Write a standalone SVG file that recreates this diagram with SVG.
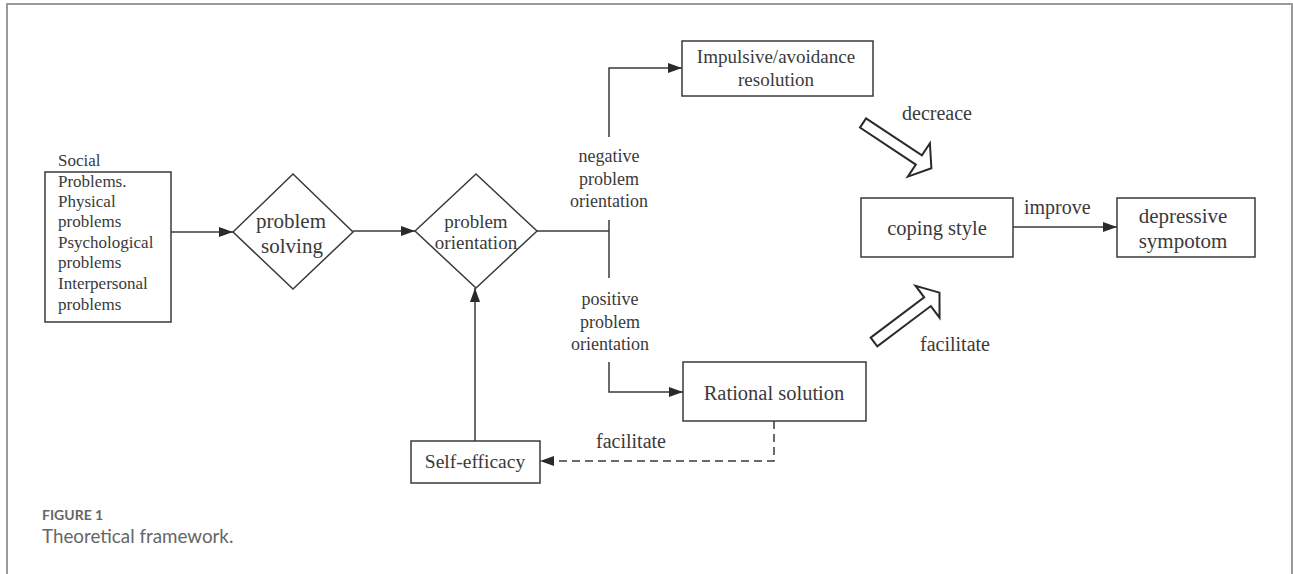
<svg xmlns="http://www.w3.org/2000/svg" width="1293" height="574" viewBox="0 0 1293 574">
<style>
.box{fill:#fff;stroke:#3a3a3a;stroke-width:1.5}
.ln{fill:none;stroke:#3a3a3a;stroke-width:1.5}
.dash{fill:none;stroke:#3a3a3a;stroke-width:1.5;stroke-dasharray:8,5}
.hollow{fill:#fff;stroke:#2a2a2a;stroke-width:2}
.t{font-family:"Liberation Serif","Times New Roman",serif;fill:#3a3a3a}
.cap{font-family:Lato,"Open Sans",sans-serif}
</style>
<defs>
<marker id="ah" viewBox="0 0 14 10" refX="14" refY="5" markerWidth="14" markerHeight="10" markerUnits="userSpaceOnUse" orient="auto">
<path d="M0,0 L14,5 L0,10 Z" fill="#2a2a2a"/>
</marker>
</defs>
<rect x="0" y="0" width="1293" height="574" fill="#fff"/>
<g id="frame">
<path d="M7,574 V4 H1292 V574" fill="none" stroke="#9a9a9a" stroke-width="2"/>
</g>
<g id="connectors">
<line class="ln" x1="171" y1="232" x2="233" y2="232" marker-end="url(#ah)"/>
<line class="ln" x1="353" y1="231" x2="415" y2="231" marker-end="url(#ah)"/>
<line class="ln" x1="537" y1="231" x2="609" y2="231"/>
<line class="ln" x1="609" y1="220" x2="609" y2="278"/>
<path class="ln" d="M609,137 V68 H682" marker-end="url(#ah)"/>
<path class="ln" d="M609,362 V392 H683" marker-end="url(#ah)"/>
<line class="ln" x1="475" y1="441" x2="475" y2="288" marker-end="url(#ah)"/>
<path class="dash" d="M774,421 V461 H540" marker-end="url(#ah)"/>
<line class="ln" x1="1013" y1="227" x2="1117" y2="227" marker-end="url(#ah)"/>
<polygon class="hollow" transform="translate(863,123) rotate(33.5)" points="0,-5.5 67,-5.5 67,-20 82,0 67,20 67,5.5 0,5.5"/>
<polygon class="hollow" transform="translate(874,342) rotate(-37)" points="0,-5.5 67,-5.5 67,-20 82,0 67,20 67,5.5 0,5.5"/>
<text class="t" x="609" y="162" font-size="18" text-anchor="middle">negative</text>
<text class="t" x="609" y="185" font-size="18" text-anchor="middle">problem</text>
<text class="t" x="609" y="207" font-size="18" text-anchor="middle">orientation</text>
<text class="t" x="610" y="305" font-size="18" text-anchor="middle">positive</text>
<text class="t" x="610" y="328" font-size="18" text-anchor="middle">problem</text>
<text class="t" x="610" y="350" font-size="18" text-anchor="middle">orientation</text>
<text class="t" x="631" y="448" font-size="20" text-anchor="middle">facilitate</text>
<text class="t" x="902" y="120" font-size="20">decreace</text>
<text class="t" x="920" y="351" font-size="20">facilitate</text>
<text class="t" x="1024" y="214" font-size="20">improve</text>
</g>
<g id="problems">
<rect class="box" x="45" y="172" width="126" height="150"/>
<text class="t" font-size="17" x="58"><tspan x="58" y="166">Social</tspan><tspan x="58" y="187">Problems.</tspan><tspan x="58" y="207">Physical</tspan><tspan x="58" y="227">problems</tspan><tspan x="58" y="248">Psychological</tspan><tspan x="58" y="268">problems</tspan><tspan x="58" y="289">Interpersonal</tspan><tspan x="58" y="310">problems</tspan></text>
</g>
<g id="problem-solving">
<polygon class="box" points="233,232 293,174 353,232 293,289"/>
<text class="t" font-size="21" text-anchor="middle" x="291" y="228">problem</text>
<text class="t" font-size="21" text-anchor="middle" x="292" y="253">solving</text>
</g>
<g id="problem-orientation">
<polygon class="box" points="415,231 476,174 537,231 476,288"/>
<text class="t" font-size="19" text-anchor="middle" x="476" y="228">problem</text>
<text class="t" font-size="19" text-anchor="middle" x="476" y="249">orientation</text>
</g>
<g id="impulsive">
<rect class="box" x="682" y="41" width="191" height="55"/>
<text class="t" font-size="19" text-anchor="middle" x="776" y="63">Impulsive/avoidance</text>
<text class="t" font-size="19" text-anchor="middle" x="776" y="86">resolution</text>
</g>
<g id="rational">
<rect class="box" x="683" y="362" width="183" height="59"/>
<text class="t" font-size="20.5" text-anchor="middle" x="774" y="400">Rational solution</text>
</g>
<g id="self-efficacy">
<rect class="box" x="411" y="441" width="129" height="42"/>
<text class="t" font-size="19.5" text-anchor="middle" x="475" y="468">Self-efficacy</text>
</g>
<g id="coping">
<rect class="box" x="861" y="198" width="152" height="59"/>
<text class="t" font-size="20.5" text-anchor="middle" x="937" y="235">coping style</text>
</g>
<g id="depressive">
<rect class="box" x="1117" y="198" width="138" height="59"/>
<text class="t" font-size="21" text-anchor="middle" x="1183" y="223">depressive</text>
<text class="t" font-size="21" text-anchor="middle" x="1183" y="248">sympotom</text>
</g>
<g id="caption">
<text class="cap" x="42" y="520" font-size="14" font-weight="bold" fill="#666">FIGURE 1</text>
<text class="cap" x="42" y="543" font-size="18.8" fill="#666">Theoretical framework.</text>
</g>
</svg>
